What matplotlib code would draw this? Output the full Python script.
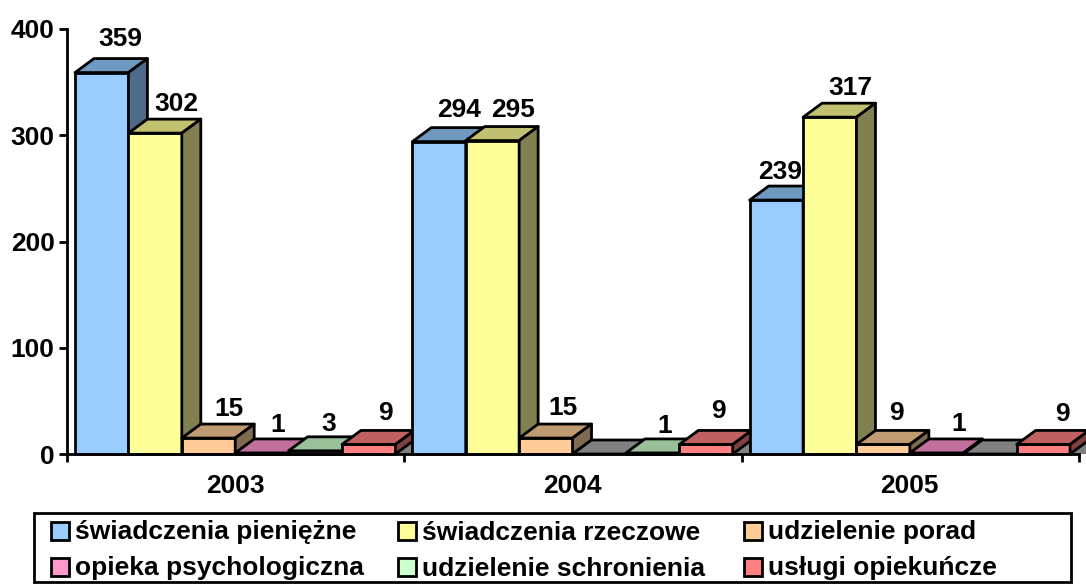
import matplotlib
matplotlib.use("Agg")
import matplotlib.pyplot as plt
from matplotlib.patches import Polygon, Rectangle

plt.rcParams['font.family'] = ['Liberation Sans', 'DejaVu Sans']
plt.rcParams['font.weight'] = 'bold'

years = ['2003', '2004', '2005']
series_names = ['świadczenia pieniężne', 'świadczenia rzeczowe', 'udzielenie porad',
                'opieka psychologiczna', 'udzielenie schronienia', 'usługi opiekuńcze']
pieniezne = [359, 294, 239]
rzeczowe = [302, 295, 317]
porady = [15, 15, 9]
psychologiczna = [1, 0, 1]
schronienie = [3, 1, 0]
opiekuncze = [9, 9, 9]
series_values = [pieniezne, rzeczowe, porady, psychologiczna, schronienie, opiekuncze]
front_colors = ['#99CCFF', '#FFFF99', '#FFCC99', '#FF99CC', '#CCFFCC', '#FF8080']
top_colors = ['#7099C0', '#C0C070', '#C09A70', '#C0709A', '#99C099', '#C06060']
side_colors = ['#4F6B8A', '#808050', '#806B50', '#80506B', '#668066', '#804040']
zero_color = '#808080'
yticks = [0, 100, 200, 300, 400]

# label placement nudges in pixels (right, up), by (group, series)
label_nudge = {
    (0, 0): (-0.7, 19.6), (0, 1): (2, 15), (0, 2): (1.5, 15), (0, 3): (-3, 14), (0, 4): (-5.5, 13), (0, 5): (-2.5, 17.5),
    (1, 0): (1, 17.6), (1, 1): (1.6, 16.6), (1, 2): (-1.8, 16), (1, 4): (-6.6, 13), (1, 5): (-7, 19),
    (2, 0): (-15.4, 14), (2, 1): (1.2, 15.2), (2, 2): (-6.2, 17), (2, 3): (3.5, 15), (2, 5): (-0.4, 16.4),
}

W, H = 1086, 584
fig = plt.figure(figsize=(W / 100, H / 100), dpi=100)
L, R, T, B = 67, 1079, 29, 454
ax = fig.add_axes([L / W, 1 - B / H, (R - L) / W, (B - T) / H])
ax.set_xlim(0, 3)
ax.set_ylim(0, 400)

px_x = 3 / (R - L)
px_y = 400 / (B - T)
bar_w = 53.4 * px_x
start = 8 * px_x
gap_w = 16 * px_x
dx = 19 * px_x
dy = 14 * px_y
lw = 2.0
FS = 19
z = 3


def box(x0, w, v, cf, ct, cs):
    global z
    x1 = x0 + w
    if v > 0:
        ax.add_patch(Polygon([(x0, 0), (x1, 0), (x1, v), (x0, v)], closed=True, fc=cf, ec='black',
                             lw=lw, clip_on=False, zorder=z, joinstyle='round'))
    ax.add_patch(Polygon([(x0, v), (x1, v), (x1 + dx, v + dy), (x0 + dx, v + dy)], closed=True,
                         fc=ct, ec='black', lw=lw, clip_on=False, zorder=z, joinstyle='round'))
    if v > 0:
        ax.add_patch(Polygon([(x1, 0), (x1 + dx, dy), (x1 + dx, v + dy), (x1, v)], closed=True,
                             fc=cs, ec='black', lw=lw, clip_on=False, zorder=z, joinstyle='round'))
    z += 1


for g in range(len(years)):
    x = g + start
    gx = x + 6 * bar_w
    ax.add_patch(Polygon([(gx, 0), (gx + gap_w, 0), (gx + gap_w + dx, dy), (gx + dx, dy)], closed=True,
                         fc=zero_color, ec='none', clip_on=False, zorder=z))
    z += 1
    for s, vals in enumerate(series_values):
        v = vals[g]
        if v == 0:
            box(x, bar_w, 0, zero_color, zero_color, zero_color)
        else:
            box(x, bar_w, v, front_colors[s], top_colors[s], side_colors[s])
        x += bar_w

for g in range(len(years)):
    x = g + start
    for s, vals in enumerate(series_values):
        v = vals[g]
        if v > 0:
            nx, ny = label_nudge[(g, s)]
            ax.annotate(str(v), (x + bar_w / 2 + dx, v + dy), xytext=(nx * 0.72, ny * 0.72),
                        textcoords='offset points', ha='center', va='center', fontsize=FS,
                        fontweight='bold', annotation_clip=False, zorder=500)
        x += bar_w

for sp in ('top', 'right'):
    ax.spines[sp].set_visible(False)
for sp in ('left', 'bottom'):
    ax.spines[sp].set_linewidth(lw)
    ax.spines[sp].set_zorder(400)
ax.set_yticks(yticks)
ax.set_yticklabels([str(t) for t in yticks], fontsize=FS, fontweight='bold')
ax.set_xticks([0, 1, 2, 3])
ax.set_xticklabels([])
ax.tick_params(axis='both', direction='out', length=6, width=lw, pad=3)
for i, y in enumerate(years):
    ax.annotate(y, (i + 0.5, 0), xytext=(-0.5, -32 * 0.72), textcoords='offset points', ha='center',
                va='center', fontsize=FS, fontweight='bold', annotation_clip=False)

# legend
fig.add_artist(Rectangle((34 / W, 1 - 582 / H), (1071 - 34) / W, (582 - 513) / H, transform=fig.transFigure,
                         fc='white', ec='black', lw=lw))
leg_x = [51, 398, 744]
leg_y = [531, 567]
for i, name in enumerate(series_names):
    c = i % 3
    r = i // 3
    xp, yp = leg_x[c], leg_y[r]
    fig.add_artist(Rectangle((xp / W, 1 - (yp + 9) / H), 18 / W, 18 / H, transform=fig.transFigure,
                             fc=front_colors[i], ec='black', lw=lw))
    fig.text((xp + 24) / W, 1 - (yp + 1.5) / H, name, ha='left', va='center', fontsize=FS, fontweight='bold')

fig.savefig('out.png', dpi=100)
